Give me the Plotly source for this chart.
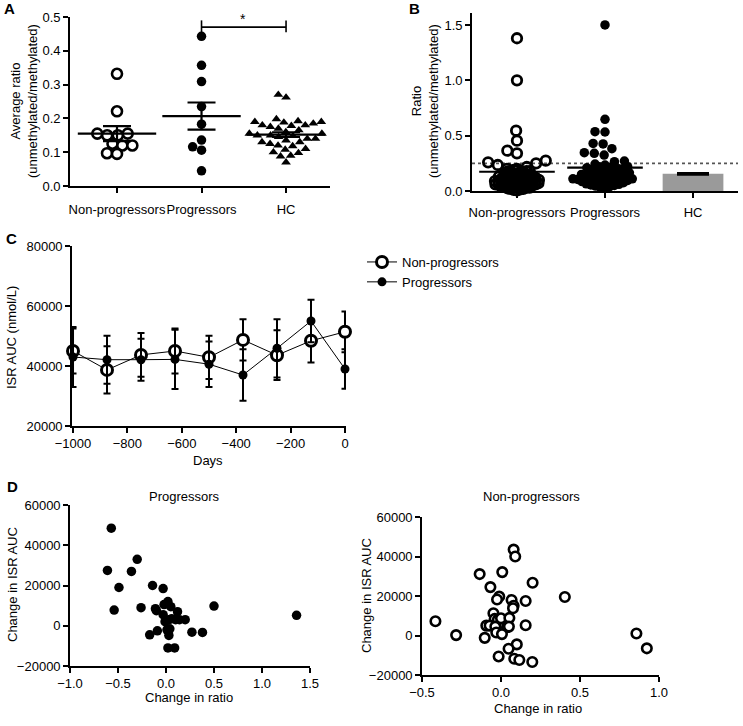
import math
import plotly.graph_objects as go

W, H = 743, 726
FONT = "Liberation Sans, Arial, Helvetica, sans-serif"

# ---------------- data ----------------
CATS = ["Non-progressors", "Progressors", "HC"]

# Panel A: average ratio per subject
A_NONPROG = [0.332, 0.221, 0.155, 0.155, 0.150, 0.150, 0.125, 0.120, 0.120, 0.097, 0.095]
A_PROG = [0.443, 0.357, 0.309, 0.235, 0.183, 0.136, 0.116, 0.106, 0.045]
A_HC = [0.270, 0.262, 0.198, 0.192, 0.190, 0.190, 0.188, 0.185, 0.180, 0.180, 0.178,
        0.175, 0.170, 0.165, 0.160, 0.155, 0.155, 0.150, 0.150, 0.148, 0.145, 0.140,
        0.140, 0.135, 0.130, 0.130, 0.125, 0.120, 0.118, 0.110, 0.108, 0.100, 0.098,
        0.090, 0.088, 0.070]
A_MEAN = [0.155, 0.207, 0.152]
A_SEM = [0.022, 0.040, 0.007]
SIG_LABEL = "*"

# Panel B: individual ratios
B_NONPROG = [1.38, 1.00, 0.545, 0.455, 0.364, 0.340, 0.274, 0.259, 0.250, 0.235, 0.217,
             0.200, 0.200,
             0.19, 0.185, 0.18, 0.18, 0.175, 0.17, 0.17, 0.165, 0.16, 0.16, 0.155, 0.15,
             0.15, 0.145, 0.14, 0.14, 0.135, 0.13, 0.13, 0.13, 0.125, 0.12, 0.12, 0.12,
             0.115, 0.11, 0.11, 0.11, 0.105, 0.10, 0.10, 0.10, 0.10, 0.095, 0.09, 0.09,
             0.09, 0.09, 0.085, 0.08, 0.08, 0.08, 0.08, 0.075, 0.07, 0.07, 0.07, 0.07,
             0.065, 0.06, 0.06, 0.06, 0.06, 0.055, 0.05, 0.05, 0.05, 0.045, 0.04, 0.04,
             0.04, 0.035, 0.03, 0.03, 0.025, 0.02, 0.02, 0.015, 0.01, 0.005]
B_PROG = [1.50, 0.648, 0.536, 0.533, 0.430, 0.425, 0.382, 0.346, 0.340, 0.325, 0.271,
          0.265, 0.244, 0.235,
          0.22, 0.22, 0.215, 0.21, 0.205, 0.20, 0.20, 0.195, 0.19, 0.185, 0.18, 0.17,
          0.165, 0.16, 0.155, 0.15, 0.15, 0.145, 0.14, 0.135, 0.13, 0.13, 0.125, 0.12,
          0.115, 0.11, 0.11, 0.105, 0.10, 0.10, 0.095, 0.09, 0.09, 0.085, 0.08, 0.08,
          0.075, 0.07, 0.065, 0.06, 0.055, 0.05, 0.045, 0.04, 0.035, 0.03]
B_MEAN = [0.174, 0.212]
B_HC_MEAN = 0.155
B_HC_SEM = 0.004
B_CUTOFF = 0.25

# Panel C: ISR AUC over time
C_DAYS = [-1000, -875, -750, -625, -500, -375, -250, -125, 0]
C_NONPROG = [45000, 38700, 43700, 45000, 42900, 48700, 43600, 48400, 51400]
C_NONPROG_ERR = [7500, 7900, 7300, 7500, 7200, 6900, 8300, 7200, 6800]
C_PROG = [43000, 42100, 42100, 42200, 40600, 37000, 45900, 55000, 39000]
C_PROG_ERR = [10000, 8000, 7000, 9900, 7600, 8600, 9700, 7100, 6600]

# Panel D: change in ISR AUC vs change in ratio
D_PROG_X = [-0.57, -0.61, -0.30, -0.36, -0.49, -0.54, -0.26, -0.14, -0.03, -0.11, -0.10,
            -0.03, 0.01, 0.02, 0.05, 0.12, -0.02, 0.00, 0.03, 0.06, 0.10, 0.14, 0.20,
            -0.09, -0.17, 0.01, 0.03, 0.27, 0.38, 0.02, 0.09, 0.50, 1.36, -0.01, 0.04]
D_PROG_Y = [48500, 27500, 33000, 27000, 19000, 7800, 9000, 20000, 18500, 8500, 7500,
            5500, 11000, 12000, 9500, 7000, 10500, 2500, 3000, 3500, 3000, 3000, 3000,
            -2500, -4500, -2000, -4800, -3200, -3300, -11000, -11000, 9800, 5200, 2000,
            -1500]
D_NONPROG_X = [0.08, 0.09, -0.135, 0.008, 0.20, -0.067, -0.011, -0.025, 0.067, 0.156,
               0.404, 0.08, 0.076, -0.048, -0.04, -0.02, 0.00, 0.053, -0.415, -0.093,
               -0.072, -0.036, 0.038, 0.05, 0.156, -0.284, -0.03, 0.006, -0.103, 0.10,
               0.048, -0.015, 0.084, 0.116, 0.198, 0.857, 0.923]
D_NONPROG_Y = [43500, 40000, 31100, 32100, 26700, 24500, 19700, 18200, 18000, 17500,
               19500, 15100, 13800, 11300, 8400, 7900, 8700, 8900, 7200, 5000, 5000,
               4500, 4200, 4500, 5200, 200, 1500, 700, -1200, -4500, -6700, -10600,
               -11800, -12400, -13400, 1000, -6500]

# ---------------- geometry (pixels) ----------------
GEO = {
    "A": dict(x=(70, 330), y=(17, 186), xr=(-0.556, 2.52), yr=(0, 0.5)),
    "B": dict(x=(472, 738), y=(13, 191), xr=(-0.511, 2.511), yr=(0, 1.608)),
    "C": dict(x=(72, 346), y=(246, 426), xr=(-1003.7, 3.7), yr=(20000, 80000)),
    "D1": dict(x=(70, 310), y=(505, 666), xr=(-1, 1.5), yr=(-20000, 60000)),
    "D2": dict(x=(422, 659), y=(517, 675), xr=(-0.5, 1.0), yr=(-20000, 60000)),
}


def xdom(g):
    return [g["x"][0] / W, g["x"][1] / W]


def ydom(g):
    return [1 - g["y"][1] / H, 1 - g["y"][0] / H]


def px_per_x(g):
    return (g["x"][1] - g["x"][0]) / (g["xr"][1] - g["xr"][0])


def px_per_y(g):
    return (g["y"][1] - g["y"][0]) / (g["yr"][1] - g["yr"][0])


def swarm(values, d, ypx, xpx):
    """Beeswarm layout: return x offsets (data units) so markers of diameter d px don't overlap."""
    placed = []
    out = [0.0] * len(values)
    order = sorted(range(len(values)), key=lambda i: values[i])
    for i in order:
        y = values[i] * ypx
        cands = [0.0]
        for (px, py) in placed:
            dy = abs(y - py)
            if dy < d:
                dx = math.sqrt(d * d - dy * dy)
                cands += [px + dx, px - dx]
        cands.sort(key=lambda c: (round(abs(c), 6), c))
        chosen = 0.0
        for c in cands:
            if all((c - px) ** 2 + (y - py) ** 2 >= d * d - 1e-6 for px, py in placed):
                chosen = c
                break
        placed.append((chosen, y))
        out[i] = chosen / xpx
    return out


fig = go.Figure()

# ---------------- Panel A ----------------
gA = GEO["A"]
ya, xa = px_per_y(gA), px_per_x(gA)
openA = dict(symbol="circle", size=10, color="white", line=dict(color="black", width=2.6))
offs = swarm(A_NONPROG, 10, ya, xa)
fig.add_trace(go.Scatter(x=[0 + o for o in offs], y=A_NONPROG, mode="markers", marker=openA,
                         xaxis="x", yaxis="y", showlegend=False, cliponaxis=False))
offs = swarm(A_PROG, 9.5, ya, xa)
fig.add_trace(go.Scatter(x=[1 + o for o in offs], y=A_PROG, mode="markers",
                         marker=dict(symbol="circle", size=9.5, color="black"),
                         xaxis="x", yaxis="y", showlegend=False, cliponaxis=False))
offs = swarm(A_HC, 8.2, ya, xa)
fig.add_trace(go.Scatter(x=[2 + o for o in offs], y=A_HC, mode="markers",
                         marker=dict(symbol="triangle-up", size=8.5, color="black"),
                         xaxis="x", yaxis="y", showlegend=False, cliponaxis=False))
fig.add_trace(go.Scatter(x=[0, 1, 2], y=A_MEAN, mode="markers",
                         marker=dict(symbol="line-ew", size=56, line=dict(color="black", width=2.2)),
                         error_y=dict(type="data", array=A_SEM, color="black", thickness=2.2, width=14),
                         xaxis="x", yaxis="y", showlegend=False, cliponaxis=False))

# ---------------- Panel B ----------------
gB = GEO["B"]
yb, xb = px_per_y(gB), px_per_x(gB)
np_hi = [v for v in B_NONPROG if v >= 0.195]
np_lo = [v for v in B_NONPROG if v < 0.195]
p_hi = [v for v in B_PROG if v >= 0.225]
p_lo = [v for v in B_PROG if v < 0.225]
openB = dict(symbol="circle-open", size=9.5, color="black", line=dict(color="black", width=2.8))
for vals, d in ((np_hi, 10), (np_lo, 3.3)):
    offs = swarm(vals, d, yb, xb)
    fig.add_trace(go.Scatter(x=[0 + o for o in offs], y=vals, mode="markers", marker=openB,
                             xaxis="x2", yaxis="y2", showlegend=False, cliponaxis=False))
for vals, d in ((p_hi, 10), (p_lo, 4.8)):
    offs = swarm(vals, d, yb, xb)
    fig.add_trace(go.Scatter(x=[1 + o for o in offs], y=vals, mode="markers",
                             marker=dict(symbol="circle", size=9.5, color="black"),
                             xaxis="x2", yaxis="y2", showlegend=False, cliponaxis=False))
fig.add_trace(go.Bar(x=[2], y=[B_HC_MEAN], width=0.69, marker=dict(color="#9a9a9a", line=dict(width=0)),
                     error_y=dict(type="data", array=[B_HC_SEM], color="black", thickness=3, width=16),
                     xaxis="x2", yaxis="y2", showlegend=False))
fig.add_trace(go.Scatter(x=[0, 1], y=B_MEAN, mode="markers",
                         marker=dict(symbol="line-ew", size=54, line=dict(color="black", width=2.2)),
                         xaxis="x2", yaxis="y2", showlegend=False, cliponaxis=False))

# ---------------- Panel C ----------------
fig.add_trace(go.Scatter(x=C_DAYS, y=C_NONPROG, mode="lines+markers", name="Non-progressors",
                         line=dict(color="black", width=1),
                         marker=dict(symbol="circle", size=11, color="white", line=dict(color="black", width=3)),
                         error_y=dict(type="data", array=C_NONPROG_ERR, color="black", thickness=2, width=3.5),
                         xaxis="x3", yaxis="y3", cliponaxis=False))
fig.add_trace(go.Scatter(x=C_DAYS, y=C_PROG, mode="lines+markers", name="Progressors",
                         line=dict(color="black", width=1),
                         marker=dict(symbol="circle", size=9, color="black"),
                         error_y=dict(type="data", array=C_PROG_ERR, color="black", thickness=2, width=3.5),
                         xaxis="x3", yaxis="y3", cliponaxis=False))

# ---------------- Panel D ----------------
fig.add_trace(go.Scatter(x=D_PROG_X, y=D_PROG_Y, mode="markers",
                         marker=dict(symbol="circle", size=9.5, color="black"),
                         xaxis="x4", yaxis="y4", showlegend=False, cliponaxis=False))
fig.add_trace(go.Scatter(x=D_NONPROG_X, y=D_NONPROG_Y, mode="markers",
                         marker=dict(symbol="circle", size=9.5, color="white", line=dict(color="black", width=2.6)),
                         xaxis="x5", yaxis="y5", showlegend=False, cliponaxis=False))


def axis(g, which, anchor, **kw):
    d = dict(domain=xdom(g) if which == "x" else ydom(g),
             range=list(g["xr"] if which == "x" else g["yr"]),
             anchor=anchor, showline=True, linecolor="black", linewidth=1.6,
             ticks="outside", ticklen=5, tickwidth=1.6, tickcolor="black",
             showgrid=False, zeroline=False, fixedrange=True, automargin=False,
             tickangle=0,
             tickfont=dict(size=13, color="black", family=FONT))
    d.update(kw)
    return d


layout = dict(
    template="none",
    width=W, height=H, margin=dict(l=0, r=0, t=0, b=0, pad=0, autoexpand=False),
    plot_bgcolor="white", paper_bgcolor="white",
    font=dict(family=FONT, size=13, color="black"),
    barmode="overlay",
    xaxis=axis(gA, "x", "y", tickvals=[0, 1, 2], ticktext=CATS, ticklabelstandoff=6),
    yaxis=axis(gA, "y", "x", tickvals=[0, 0.1, 0.2, 0.3, 0.4, 0.5], tickformat=".1f"),
    xaxis2=axis(gB, "x", "y2", tickvals=[0, 1, 2], ticktext=CATS, ticklabelstandoff=4),
    yaxis2=axis(gB, "y", "x2", tickvals=[0, 0.5, 1.0, 1.5], tickformat=".1f"),
    xaxis3=axis(GEO["C"], "x", "y3", tickvals=list(range(-1000, 1, 200)), tickformat="d"),
    yaxis3=axis(GEO["C"], "y", "x3", tickvals=[20000, 40000, 60000, 80000], tickformat="d"),
    xaxis4=axis(GEO["D1"], "x", "y4", tickvals=[-1, -0.5, 0, 0.5, 1, 1.5], tickformat=".1f"),
    yaxis4=axis(GEO["D1"], "y", "x4", tickvals=[-20000, 0, 20000, 40000, 60000], tickformat="d"),
    xaxis5=axis(GEO["D2"], "x", "y5", tickvals=[-0.5, 0, 0.5, 1.0], tickformat=".1f"),
    yaxis5=axis(GEO["D2"], "y", "x5", tickvals=[-20000, 0, 20000, 40000, 60000], tickformat="d"),
    legend=dict(x=362 / W, y=1 - 247 / H, xanchor="left", yanchor="top",
                bgcolor="rgba(0,0,0,0)", font=dict(size=13), tracegroupgap=0),
    showlegend=True,
)
fig.update_layout(**layout)

# significance bracket (Panel A) and cutoff line (Panel B)
line_k = dict(color="black", width=1.6)
fig.add_shape(type="line", xref="x", yref="y", x0=1, x1=2, y0=0.47, y1=0.47, line=line_k)
fig.add_shape(type="line", xref="x", yref="y", x0=1, x1=1, y0=0.455, y1=0.49, line=line_k)
fig.add_shape(type="line", xref="x", yref="y", x0=2, x1=2, y0=0.455, y1=0.49, line=line_k)
fig.add_shape(type="line", xref="x2 domain", yref="y2", x0=0, x1=1, y0=B_CUTOFF, y1=B_CUTOFF,
              line=dict(color="#555555", width=1.6, dash="dot"), layer="below")


def ann(text, xpx, ypx, size=13, angle=0, **kw):
    fig.add_annotation(text=text, x=xpx / W, y=1 - ypx / H, xref="paper", yref="paper",
                       xanchor="center", yanchor="middle", showarrow=False, textangle=angle,
                       font=dict(size=size, color="black", family=FONT), **kw)


ann(SIG_LABEL, 243, 19, size=14)
ann("Average ratio<br>(unmethylated/methylated)", 24, 101, angle=-90)
ann("Ratio<br>(unmethylated/methylated)", 425, 101, angle=-90)
ann("ISR AUC (nmol/L)", 12, 338, angle=-90)
ann("Days", 208, 460)
ann("Change in ISR AUC", 12, 585, angle=-90)
ann("Change in ratio", 189, 697)
ann("Change in ISR AUC", 366, 596, angle=-90)
ann("Change in ratio", 538, 708)
ann("Progressors", 184, 496)
ann("Non-progressors", 531, 496)
for lab, xp, yp in (("A", 9, 8), ("B", 414, 8), ("C", 11, 238), ("D", 12, 486)):
    ann("<b>" + lab + "</b>", xp, yp, size=15)

fig.write_html("out.html", config={"displayModeBar": False},
               post_script="document.body.style.margin='0px';")
